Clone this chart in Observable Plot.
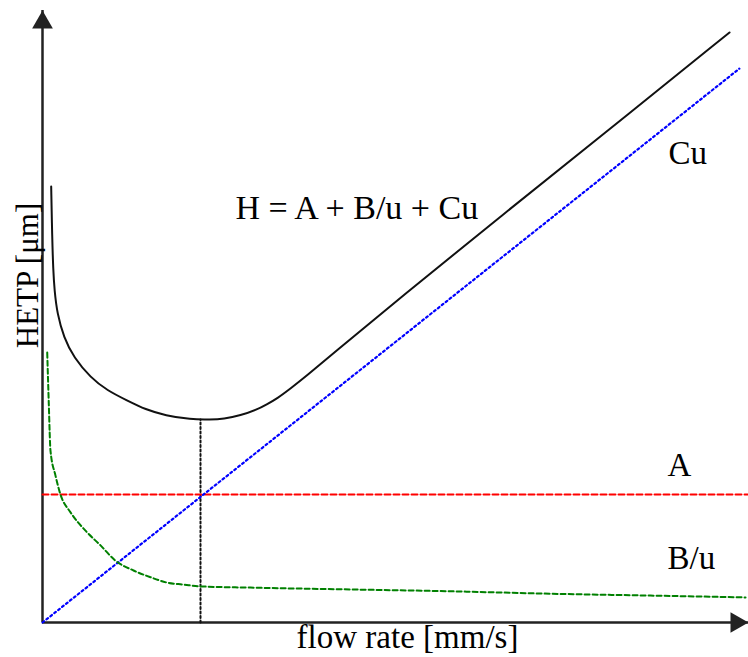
<!DOCTYPE html>
<html>
<head>
<meta charset="utf-8">
<script src="https://cdn.jsdelivr.net/npm/d3@7"></script>
<script src="https://cdn.jsdelivr.net/npm/@observablehq/plot@0.6"></script>
<style>
  html, body { margin: 0; padding: 0; background: #fff; }
</style>
</head>
<body>
<div id="chart"></div>
<script>
// Van Deemter curve (schematic, arbitrary units)
const hU = [0.123, 0.137, 0.152, 0.170, 0.208, 0.302, 0.443, 0.680, 0.916, 1.200, 1.459, 1.742, 2.096, 2.380, 2.564, 2.805, 3.041, 3.173, 3.324, 3.513, 3.749, 4.079, 5.071, 6.487, 7.904, 9.731];
const hVal = [7.124, 6.291, 5.752, 5.425, 5.049, 4.657, 4.330, 4.003, 3.791, 3.627, 3.480, 3.382, 3.317, 3.317, 3.328, 3.382, 3.480, 3.562, 3.660, 3.824, 4.036, 4.363, 5.310, 6.634, 7.941, 9.641];

const bU = [0.067, 0.089, 0.113, 0.184, 0.255, 0.397, 0.609, 0.822, 1.034, 1.289, 1.530, 1.771, 1.997, 2.238, 2.946, 4.363, 5.779, 7.195, 8.612, 9.958];
const bVal = [4.41, 3.58, 2.81, 2.40, 2.09, 1.80, 1.50, 1.26, 1.01, 0.85, 0.74, 0.65, 0.62, 0.59, 0.57, 0.54, 0.51, 0.47, 0.44, 0.41];

const cU = [0, 9.87];
const cVal = [0, 9.05];

const aU = [0, 10];
const aVal = [2.09, 2.09];

const optU = [2.238, 2.238];
const optH = [0, 3.317];

const termNames = ["H = A + B/u + Cu", "Cu", "A", "B/u"];
const xLabel = "flow rate [mm/s]";
const yLabel = "HETP [μm]";

// build tables
const H = hU.map((u, i) => ({u, v: hVal[i]}));
const B = bU.map((u, i) => ({u, v: bVal[i]}));
const C = cU.map((u, i) => ({u, v: cVal[i]}));
const A = aU.map((u, i) => ({u, v: aVal[i]}));
const OPT = optU.map((u, i) => ({u, v: optH[i]}));

// annotation anchor points (data units)
const formulaNote = [{u: 2.734, v: 6.585, t: termNames[0]}];
const termNotes = [
  {u: 8.867, v: 7.50, t: termNames[1]},
  {u: 8.853, v: 2.40, t: termNames[2]},
  {u: 8.853, v: 0.88, t: termNames[3]}
];

const font = "Liberation Serif, Times New Roman, serif";
const axisColor = "#222";

const chart = Plot.plot({
  width: 748,
  height: 657,
  marginLeft: 42,
  marginRight: 0,
  marginTop: 10,
  marginBottom: 35,
  style: {fontFamily: font, background: "#fff"},
  x: {domain: [0, 10], axis: null},
  y: {domain: [0, 10], axis: null},
  marks: [
    Plot.ruleX([0], {stroke: axisColor, strokeWidth: 2.5}),
    Plot.ruleY([0], {stroke: axisColor, strokeWidth: 2.5}),
    Plot.dot([{u: 0, v: 10}], {x: "u", y: "v", symbol: "triangle", r: 7.7, fill: axisColor, stroke: "none", dy: 12}),
    Plot.dot([{u: 10, v: 0}], {x: "u", y: "v", symbol: "triangle", r: 7.7, fill: axisColor, stroke: "none", rotate: 90, dx: -12}),
    Plot.line(OPT, {x: "u", y: "v", stroke: "#111", strokeWidth: 2, strokeDasharray: "2,2.5"}),
    Plot.line(A, {x: "u", y: "v", stroke: "#ff0000", strokeWidth: 2, strokeDasharray: "6,3"}),
    Plot.line(C, {x: "u", y: "v", stroke: "#0000ff", strokeWidth: 2.2, strokeDasharray: "2,3"}),
    Plot.line(B, {x: "u", y: "v", stroke: "#008000", strokeWidth: 2, strokeDasharray: "5,3", curve: "monotone-x"}),
    Plot.line(H, {x: "u", y: "v", stroke: "#111", strokeWidth: 2, curve: "basis"}),
    Plot.text(formulaNote, {x: "u", y: "v", text: "t", textAnchor: "start", lineAnchor: "bottom", fontSize: 34, fontFamily: font, fill: "#000"}),
    Plot.text(termNotes, {x: "u", y: "v", text: "t", textAnchor: "start", lineAnchor: "bottom", fontSize: 33, fontFamily: font, fill: "#000"}),
    Plot.text([xLabel], {frameAnchor: "bottom", text: d => d, lineAnchor: "bottom", dx: 12, dy: 25, fontSize: 33, fontFamily: font, fill: "#000"}),
    Plot.text([yLabel], {x: () => 0, y: () => 5.67, text: d => d, rotate: -90, lineAnchor: "bottom", dx: -5, fontSize: 31, fontFamily: font, fill: "#000"})
  ]
});
document.getElementById("chart").appendChild(chart);
</script>
</body>
</html>
